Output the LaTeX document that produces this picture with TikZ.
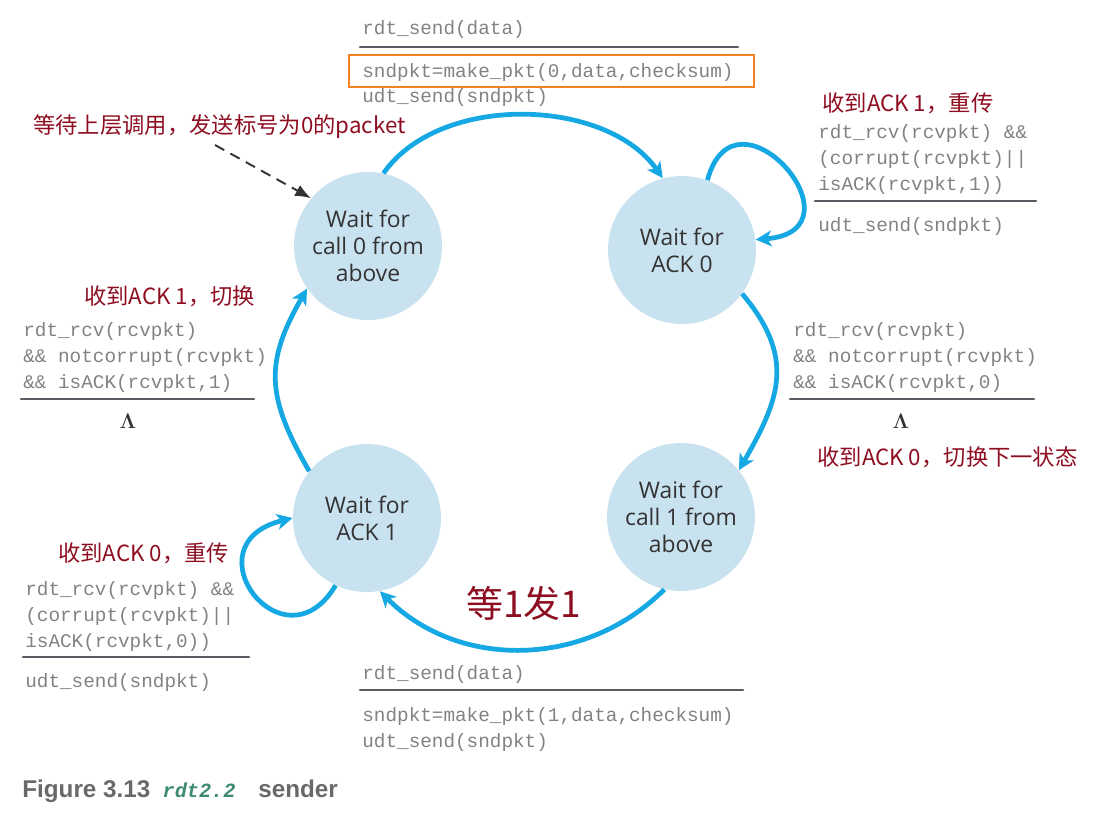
\documentclass[tikz,border=0pt]{standalone}
\usepackage{fontspec}
\usepackage{tkz-euclide}
\usepackage{tikz}
\usepackage{amsmath}
\usetikzlibrary{arrows.meta}
\setmonofont{Liberation Mono}
\newfontfamily\cjk{Noto Sans CJK SC}
\newfontfamily\statefont{Open Sans}
\newfontfamily\capfont{Liberation Sans}
\definecolor{fsmblue}{RGB}{22,168,226}
\definecolor{statefill}{RGB}{201,226,240}
\definecolor{statetext}{RGB}{51,51,51}
\definecolor{notered}{RGB}{142,14,33}
\definecolor{codegray}{RGB}{130,130,130}
\definecolor{rulegray}{RGB}{88,93,100}
\definecolor{hlorange}{RGB}{245,130,32}
\definecolor{capgray}{RGB}{105,105,105}
\definecolor{capgreen}{RGB}{61,140,110}

\begin{document}
\begin{tikzpicture}[scale=1,
    stateball/.style={circle, fill=statefill, minimum size=2.96cm, inner sep=0pt,
        align=center, text=statetext, font=\statefont\fontsize{13}{15.3}\selectfont},
    moveedge/.style={draw=fsmblue, line width=2.7pt,
        -{Stealth[length=9pt,width=9pt,inset=2.5pt]}},
    cuearrow/.style={draw=black!80, line width=1.1pt, dash pattern=on 6pt off 4pt,
        -{Latex[length=9pt,width=7pt]}},
    codetext/.style={anchor=base west, inner sep=0pt, align=left, text=codegray,
        font=\ttfamily\fontsize{11}{14.7}\selectfont},
    redlabel/.style={anchor=west, inner sep=0pt, text=notered,
        font=\cjk\fontsize{12.7}{15}\selectfont},
    rulebar/.style={draw=rulegray, line width=1.3pt},
    lambdasym/.style={inner sep=0pt, text=black!80, font=\fontsize{12}{14}\selectfont}]
    \useasboundingbox (0,0) rectangle (21.98,-16.6);
    \tkzDefPoints{7.36/-4.92/P0,13.64/-5.00/Q0,13.62/-10.34/P1,7.34/-10.36/Q1}
    \tkzDefPoints{7.20/-0.94/R1,14.76/-0.94/R2,16.30/-4.02/R3,20.72/-4.02/R4,
        0.42/-7.98/R5,5.08/-7.98/R6,15.80/-7.98/R7,20.68/-7.98/R8,
        0.46/-13.14/R9,4.98/-13.14/R10,7.20/-13.80/R11,14.86/-13.80/R12}
    % states
    \node[stateball] (W0) at (P0) {Wait for\\call 0 from\\above};
    \node[stateball] (K0) at (Q0) {Wait for\\ACK 0};
    \node[stateball] (W1) at (P1) {Wait for\\call 1 from\\above};
    \node[stateball] (K1) at (Q1) {Wait for\\ACK 1};
    % transitions
    \draw[moveedge] (W0.78) to[out=55,in=125,looseness=0.9] (K0.105);
    \draw[moveedge] (K0.-36) to[out=-50,in=60,looseness=1.2] (W1.39);
    \draw[moveedge] (W1.257) to[out=-135,in=-45] (K1.280);
    \draw[moveedge] (K1.141) to[out=120,in=-120,looseness=1.2] (W0.215);
    \draw[moveedge] (K0.70) .. controls +(0.56,2.08) and +(2.26,0.18) .. (K0.8);
    \draw[moveedge] (K1.245) .. controls +(-1.04,-1.74) and +(-2.12,-0.52) .. (K1.180);
    \coordinate (cue) at (4.30,-2.90);
    \draw[cuearrow] (cue) -- (W0.140);
    % events and actions (base = last line)
    \node[codetext] (sendG0) at (7.24,-0.70) {rdt\_send(data)};
    \node[codetext] (sendA0) at (7.24,-2.06) {sndpkt=make\_pkt(0,data,checksum)\\udt\_send(sndpkt)};
    \draw[draw=hlorange, line width=1.4pt] (6.98,-1.10) rectangle (15.08,-1.74);
    \node[codetext] (loopG0) at (16.36,-3.80) {rdt\_rcv(rcvpkt) \&\&\\(corrupt(rcvpkt)||\\isACK(rcvpkt,1))};
    \node[codetext] (loopA0) at (16.36,-4.62) {udt\_send(sndpkt)};
    \node[codetext] (ackG1) at (0.46,-7.76) {rdt\_rcv(rcvpkt)\\\&\& notcorrupt(rcvpkt)\\\&\& isACK(rcvpkt,1)};
    \node[lambdasym] (ackA1) at (2.56,-8.42) {$\boldsymbol{\Lambda}$};
    \node[codetext] (ackG0) at (15.86,-7.76) {rdt\_rcv(rcvpkt)\\\&\& notcorrupt(rcvpkt)\\\&\& isACK(rcvpkt,0)};
    \node[lambdasym] (ackA0) at (18.02,-8.42) {$\boldsymbol{\Lambda}$};
    \node[codetext] (loopG1) at (0.50,-12.94) {rdt\_rcv(rcvpkt) \&\&\\(corrupt(rcvpkt)||\\isACK(rcvpkt,0))};
    \node[codetext] (loopA1) at (0.50,-13.74) {udt\_send(sndpkt)};
    \node[codetext] (sendG1) at (7.24,-13.58) {rdt\_send(data)};
    \node[codetext] (sendA1) at (7.24,-14.94) {sndpkt=make\_pkt(1,data,checksum)\\udt\_send(sndpkt)};
    \tkzDrawSegments[rulebar](R1,R2 R3,R4 R5,R6 R7,R8 R9,R10 R11,R12)
    % notes
    \node[redlabel] (noteStart) at (0.66,-2.54) {等待上层调用，发送标号为0的packet};
    \node[redlabel] (noteLoop0) at (16.44,-2.06) {收到ACK 1，重传};
    \node[redlabel] (noteAck1) at (1.68,-5.92) {收到ACK 1，切换};
    \node[redlabel] (noteAck0) at (16.34,-9.14) {收到ACK 0，切换下一状态};
    \node[redlabel] (noteLoop1) at (1.16,-11.06) {收到ACK 0，重传};
    \node[redlabel, font=\cjk\fontsize{21}{24}\selectfont] (noteSend1) at (9.32,-12.06) {等1发1};
    % caption
    \node[anchor=base west, inner sep=0pt, text=capgray,
        font=\capfont\bfseries\fontsize{13.8}{16}\selectfont] (caption) at (0.44,-15.94)
        {Figure 3.13\hspace{7pt}{\ttfamily\itshape\fontsize{11.5}{16}\selectfont\color{capgreen}rdt2.2}\hspace{13pt}sender};
\end{tikzpicture}
\end{document}
